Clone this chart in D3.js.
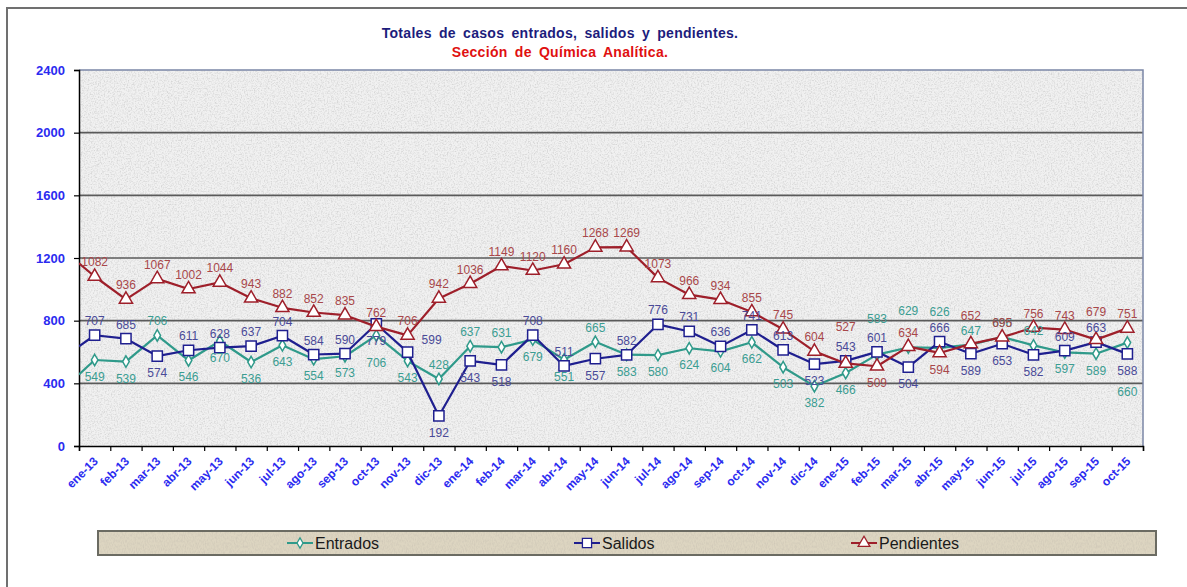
<!DOCTYPE html>
<html lang="es">
<head>
<meta charset="UTF-8">
<title>Totales de casos entrados, salidos y pendientes</title>
<script src="https://d3js.org/d3.v7.min.js"></script>
<style>
  body { margin: 0; background: #fff; }
  svg { display: block; font-family: Arial, "Liberation Sans", sans-serif; }
</style>
</head>
<body>
<div id="chart"></div>
<script>
  const months = ["ene-13","feb-13","mar-13","abr-13","may-13","jun-13","jul-13","ago-13","sep-13","oct-13","nov-13","dic-13",
                  "ene-14","feb-14","mar-14","abr-14","may-14","jun-14","jul-14","ago-14","sep-14","oct-14","nov-14","dic-14",
                  "ene-15","feb-15","mar-15","abr-15","may-15","jun-15","jul-15","ago-15","sep-15","oct-15"];
  const entrados   = [549,539,706,546,670,536,643,554,573,706,543,428,637,631,679,551,665,583,580,624,604,662,503,382,466,583,629,626,647,696,642,597,589,660];
  const salidos    = [707,685,574,611,628,637,704,584,590,779,599,192,543,518,708,511,557,582,776,731,636,741,613,523,543,601,504,666,589,653,582,609,663,588];
  const pendientes = [1082,936,1067,1002,1044,943,882,852,835,762,706,942,1036,1149,1120,1160,1268,1269,1073,966,934,855,745,604,527,509,634,594,652,695,756,743,679,751];
  // value where each line enters at the left edge of the plot
  const leadIn = [456, 636, 1166];
  const yTicks = [0, 400, 800, 1200, 1600, 2000, 2400];
  const seriesNames = ["Entrados", "Salidos", "Pendientes"];
  // label placement: a = above, A/H = higher above, b = below, c/B = further below, r = to the right
  const labelSides = [
    "bbabbbbbbcbaaabbabbbbbbbbHHHaaabbB",
    "aabaaaaaabrbbbaabaaaaaabaababbbaab",
    "aaaaaaaaaaaaaaaaaaaaaaaaHbabAaaaAa"
  ];
  const labelOffset = {
    a: { dx: 0, dy: -10, anchor: "middle" },
    A: { dx: 0, dy: -24, anchor: "middle" },
    H: { dx: 0, dy: -32, anchor: "middle" },
    b: { dx: 0, dy: 21, anchor: "middle" },
    c: { dx: 0, dy: 32, anchor: "middle" },
    B: { dx: 0, dy: 53, anchor: "middle" },
    r: { dx: 14, dy: -8, anchor: "start" }
  };

  const W = 1187, H = 587;
  const plot = { left: 79, right: 1143, top: 70, bottom: 446 };

  const svg = d3.select("#chart").append("svg")
    .attr("width", W).attr("height", H);

  const defs = svg.append("defs");

  // grey granite look for the plot area
  const granite = defs.append("filter").attr("id", "granite")
    .attr("x", 0).attr("y", 0).attr("width", "100%").attr("height", "100%");
  granite.append("feTurbulence").attr("type", "fractalNoise")
    .attr("baseFrequency", 0.7).attr("numOctaves", 3).attr("seed", 4).attr("result", "n");
  granite.append("feColorMatrix").attr("in", "n").attr("type", "matrix")
    .attr("values", "0 0 0 0 0.68  0 0 0 0 0.68  0 0 0 0 0.68  2.6 0 0 0 -1.1")
    .attr("result", "speck");
  granite.append("feComposite").attr("in", "speck").attr("in2", "SourceAlpha")
    .attr("operator", "in").attr("result", "speckIn");
  const gm = granite.append("feMerge");
  gm.append("feMergeNode").attr("in", "SourceGraphic");
  gm.append("feMergeNode").attr("in", "speckIn");

  // beige burlap look for the legend
  const burlap = defs.append("filter").attr("id", "burlap")
    .attr("x", 0).attr("y", 0).attr("width", "100%").attr("height", "100%");
  burlap.append("feTurbulence").attr("type", "fractalNoise")
    .attr("baseFrequency", "0.9 0.35").attr("numOctaves", 2).attr("seed", 7).attr("result", "n");
  burlap.append("feColorMatrix").attr("in", "n").attr("type", "matrix")
    .attr("values", "0 0 0 0 0.62  0 0 0 0 0.57  0 0 0 0 0.47  1.8 0 0 0 -0.7")
    .attr("result", "speck");
  burlap.append("feComposite").attr("in", "speck").attr("in2", "SourceAlpha")
    .attr("operator", "in").attr("result", "speckIn");
  const bm = burlap.append("feMerge");
  bm.append("feMergeNode").attr("in", "SourceGraphic");
  bm.append("feMergeNode").attr("in", "speckIn");

  defs.append("clipPath").attr("id", "plotClip").append("rect")
    .attr("x", plot.left).attr("y", plot.top - 10)
    .attr("width", plot.right - plot.left + 10).attr("height", plot.bottom - plot.top + 20);

  // outer frame
  svg.append("path")
    .attr("d", `M7,${H + 5} L7,8 L${W + 5},8`)
    .attr("fill", "none").attr("stroke", "#707070").attr("stroke-width", 2);

  // titles
  svg.append("text").attr("x", 560).attr("y", 38).attr("text-anchor", "middle")
    .attr("font-size", 14).attr("font-weight", "bold").attr("fill", "#1c1c7c")
    .attr("word-spacing", 3).attr("letter-spacing", 0.3)
    .text("Totales de casos entrados, salidos y pendientes.");
  svg.append("text").attr("x", 560).attr("y", 57).attr("text-anchor", "middle")
    .attr("font-size", 14).attr("font-weight", "bold").attr("fill", "#e01010")
    .attr("word-spacing", 3).attr("letter-spacing", 0.3)
    .text("Sección de Química Analítica.");

  const x = d3.scaleBand().domain(months).range([plot.left, plot.right]);
  const xi = d3.scaleLinear().domain([0, months.length]).range([plot.left, plot.right]);
  const y = d3.scaleLinear().domain([0, 2400]).range([plot.bottom, plot.top]);
  const cx = m => x(m) + x.bandwidth() / 2;

  // plot background
  svg.append("rect")
    .attr("x", plot.left).attr("y", plot.top)
    .attr("width", plot.right - plot.left).attr("height", plot.bottom - plot.top)
    .attr("fill", "#f1f1f1").attr("filter", "url(#granite)");

  // gridlines
  svg.append("g").selectAll("line")
    .data(yTicks.filter(t => t > 0 && t < 2400))
    .join("line")
    .attr("x1", plot.left).attr("x2", plot.right)
    .attr("y1", d => y(d)).attr("y2", d => y(d))
    .attr("stroke", "#5a5a5a").attr("stroke-width", 1.6);

  // plot border top / right
  svg.append("path")
    .attr("d", `M${plot.left},${y(2400)} H${plot.right} V${plot.bottom}`)
    .attr("fill", "none").attr("stroke", "#7b86a6").attr("stroke-width", 1.5);

  // y axis
  const yAxis = svg.append("g").attr("transform", `translate(${plot.left},0)`)
    .call(d3.axisLeft(y).tickValues(yTicks).tickSize(5).tickPadding(9).tickFormat(d3.format("d")));
  yAxis.select(".domain").attr("stroke", "#000").attr("stroke-width", 1.5);
  yAxis.selectAll(".tick line").attr("stroke", "#000").attr("stroke-width", 1.2);
  yAxis.selectAll(".tick text").attr("font-size", 13).attr("font-weight", "bold")
    .attr("fill", "#2b2bf0").attr("font-family", "Arial, 'Liberation Sans', sans-serif");

  // x axis
  const xAxis = svg.append("g").attr("transform", `translate(0,${plot.bottom})`)
    .call(d3.axisBottom(xi).tickValues(d3.range(months.length + 1)).tickSize(5).tickFormat(""));
  xAxis.select(".domain").attr("stroke", "#000").attr("stroke-width", 1.5);
  xAxis.selectAll(".tick line").attr("stroke", "#000").attr("stroke-width", 1.2);

  svg.append("g").selectAll("text")
    .data(months)
    .join("text")
    .attr("transform", d => `translate(${cx(d) + 1},${plot.bottom + 13}) rotate(-45)`)
    .attr("text-anchor", "end")
    .attr("dy", "0.35em")
    .attr("font-size", 12).attr("font-weight", "bold").attr("fill", "#2b2bf0")
    .text(d => d);

  // series
  const seriesValues = [entrados, salidos, pendientes];
  const colors = ["#2f9a8a", "#1f1f8f", "#9e1f2a"];
  const labelColors = ["#3b9d92", "#4a4a98", "#a8474a"];
  const symbols = [d3.symbolDiamond, d3.symbolSquare, d3.symbolTriangle];
  const symbolSizes = [38, 105, 75];

  const line = d3.line().x(d => d.x).y(d => y(d.v));
  const gSeries = svg.append("g").attr("clip-path", "url(#plotClip)");

  seriesValues.forEach((vals, s) => {
    const pts = [{ x: x.range()[0], v: leadIn[s] }]
      .concat(vals.map((v, i) => ({ x: cx(months[i]), v, i })));
    const g = gSeries.append("g");
    g.append("path").datum(pts)
      .attr("d", line)
      .attr("fill", "none").attr("stroke", colors[s]).attr("stroke-width", 2.2)
      .attr("stroke-linejoin", "round");
    g.selectAll("path.mark")
      .data(pts.slice(1))
      .join("path").attr("class", "mark")
      .attr("transform", d => `translate(${d.x},${y(d.v)})`)
      .attr("d", d3.symbol().type(symbols[s]).size(symbolSizes[s]))
      .attr("fill", "#fff").attr("stroke", colors[s]).attr("stroke-width", 1.5);
  });

  // value labels
  seriesValues.forEach((vals, s) => {
    svg.append("g").selectAll("text")
      .data(vals)
      .join("text")
      .each(function (d, i) {
        const o = labelOffset[labelSides[s][i]] || labelOffset.a;
        d3.select(this)
          .attr("x", cx(months[i]) + o.dx)
          .attr("y", y(d) + o.dy)
          .attr("text-anchor", o.anchor);
      })
      .attr("font-size", 12).attr("fill", labelColors[s])
      .text(d => d);
  });

  // legend
  const legend = svg.append("g");
  legend.append("rect")
    .attr("x", 98).attr("y", 531).attr("width", 1058).attr("height", 24)
    .attr("fill", "#ddd5c1")
    .attr("filter", "url(#burlap)");
  legend.append("rect")
    .attr("x", 98).attr("y", 531).attr("width", 1058).attr("height", 24)
    .attr("fill", "none").attr("stroke", "#6b6b62").attr("stroke-width", 2);
  const legendX = [287, 574, 851];
  seriesNames.forEach((name, s) => {
    const g = legend.append("g").attr("transform", `translate(${legendX[s]},543)`);
    g.append("line").attr("x1", 0).attr("x2", 26)
      .attr("stroke", colors[s]).attr("stroke-width", 2);
    g.append("path").attr("transform", "translate(13,0)")
      .attr("d", d3.symbol().type(symbols[s]).size(symbolSizes[s] * 0.8))
      .attr("fill", "#fff").attr("stroke", colors[s]).attr("stroke-width", 1.3);
    g.append("text").attr("x", 28).attr("dy", "0.35em")
      .attr("font-size", 16).attr("fill", "#1a1a1a").text(name);
  });
</script>
</body>
</html>
